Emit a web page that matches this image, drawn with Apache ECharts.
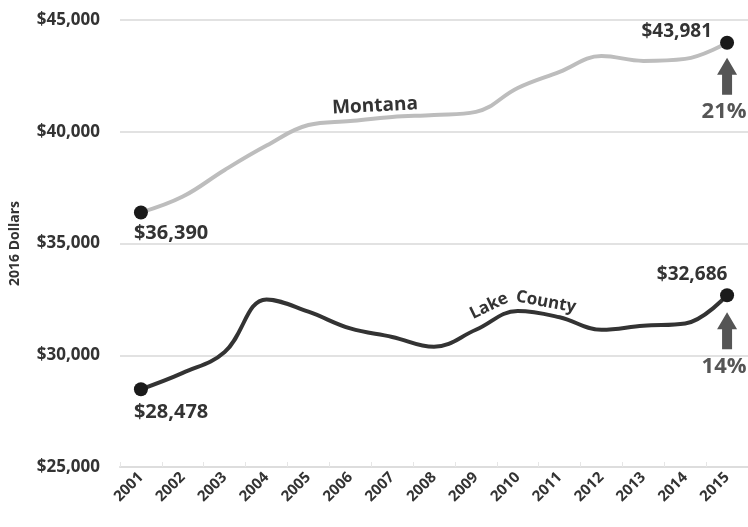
<!DOCTYPE html>
<html><head><meta charset="utf-8">
<script src="https://cdn.jsdelivr.net/npm/echarts@6/dist/echarts.min.js"></script>
<style>html,body{margin:0;padding:0;background:#fff}#c{width:748px;height:527px}</style>
</head><body><div id="c"></div>
<script>
var years = ['2001','2002','2003','2004','2005','2006','2007','2008','2009','2010','2011','2012','2013','2014','2015'];
var montana = [36390,37100,38290,39380,40300,40480,40660,40750,40890,41960,42680,43390,43170,43260,43981];
var lakeCounty = [28478,29210,30150,32500,31950,31200,30820,30380,31140,31980,31700,31140,31320,31420,32686];
var yTicks = [25000,30000,35000,40000,45000];
var changes = ['21%','14%'];
var FONT = '"Open Sans", "DejaVu Sans", sans-serif';

var chart = echarts.init(document.getElementById('c'));
function sym(v, p){ return (p.dataIndex === 0 || p.dataIndex === years.length-1) ? 14 : 0; }
chart.setOption({
  animation:false,
  grid:{left:117,right:0,top:20,bottom:60},
  xAxis:{type:'category',data:years,boundaryGap:true,
    axisLine:{lineStyle:{color:'#dddddd',width:2}},
    axisTick:{show:true,inside:true,length:5,lineStyle:{color:'#e6e6e6'}},
    axisLabel:{rotate:45,fontFamily:FONT,fontWeight:'bold',fontSize:15,color:'#333',margin:8}},
  yAxis:{type:'value',min:yTicks[0],max:yTicks[yTicks.length-1],interval:5000,
    name:'2016 Dollars',nameLocation:'middle',nameGap:98,
    nameTextStyle:{fontFamily:FONT,fontWeight:'bold',fontSize:14,color:'#333'},
    axisLine:{show:false},axisTick:{show:false},
    splitLine:{lineStyle:{color:'#e2e2e2',width:2}},
    axisLabel:{fontFamily:FONT,fontWeight:'bold',fontSize:17,color:'#333',margin:20,
      formatter:function(v){return '$'+v.toLocaleString('en-US');}}},
  series:[
    {name:'Montana',type:'line',data:montana,smooth:0.4,symbol:'circle',symbolSize:sym,showAllSymbol:true,
     lineStyle:{color:'#bdbdbd',width:4},itemStyle:{color:'#1a1a1a'},z:3},
    {name:'Lake County',type:'line',data:lakeCounty,smooth:0.4,symbol:'circle',symbolSize:sym,showAllSymbol:true,
     lineStyle:{color:'#333333',width:4},itemStyle:{color:'#1a1a1a'},z:4}
  ]
});

function px(i, v){ return chart.convertToPixel({gridIndex:0},[years[i], v]); }
function money(v){ return '$'+v.toLocaleString('en-US'); }
var last = years.length-1;
var g = [];
function txt(x,y,s,opt){
  g.push({type:'text',x:x,y:y,rotation:opt.rot||0,z:10,style:{text:s,font:(opt.w||'bold')+' '+opt.size+'px '+FONT,
    fill:opt.color||'#333',align:opt.align||'center',verticalAlign:'middle'}});
}
function arrow(x,yTop){
  g.push({type:'polygon',z:10,shape:{points:[[x,yTop],[x+10,yTop+17],[x+5,yTop+17],[x+5,yTop+37],[x-5,yTop+37],[x-5,yTop+17],[x-10,yTop+17]]},
    style:{fill:'#555'}});
}
var m0 = px(0, montana[0]), mL = px(last, montana[last]);
var l0 = px(0, lakeCounty[0]), lL = px(last, lakeCounty[last]);
txt(m0[0]-7, m0[1]+21, money(montana[0]), {size:20, align:'left'});
txt(l0[0]-7, l0[1]+23, money(lakeCounty[0]), {size:20, align:'left'});
txt(mL[0]-15, mL[1]-11, money(montana[last]), {size:19, align:'right'});
txt(lL[0]-35, lL[1]-21, money(lakeCounty[last]), {size:19, align:'center'});
arrow(mL[0], mL[1]+15);
arrow(lL[0], lL[1]+17);
txt(mL[0]-3, mL[1]+69, changes[0], {size:22, color:'#555'});
txt(lL[0]-3, lL[1]+72, changes[1], {size:22, color:'#555'});
txt(375, 106, 'Montana', {size:19, rot:0.05});
txt(489, 306, 'Lake', {size:17, rot:0.45});
txt(546, 302, 'County', {size:17, rot:-0.18});
chart.setOption({graphic:g});
</script></body></html>
